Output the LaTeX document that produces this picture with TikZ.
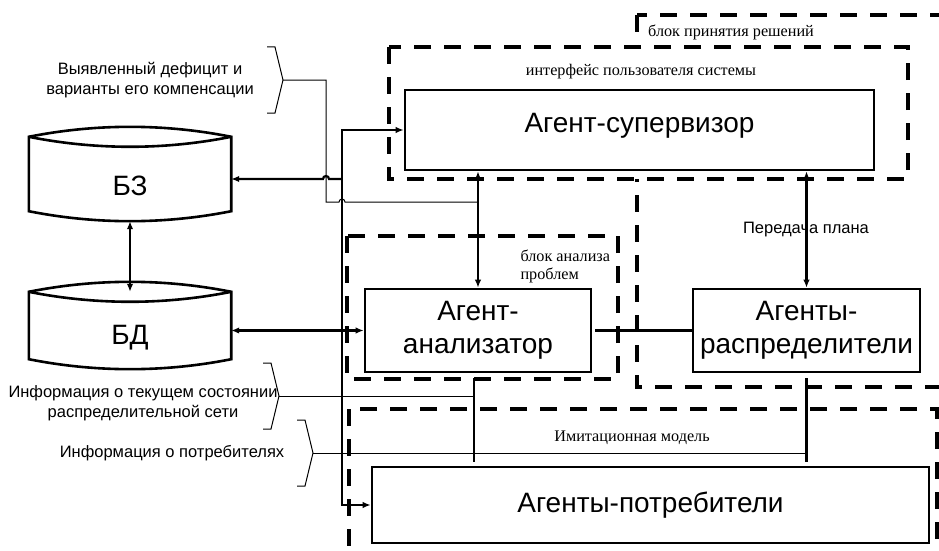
\documentclass[tikz,border=0pt]{standalone}
\usepackage{fontspec}
\setmainfont{Liberation Sans}
\newfontfamily\capfont{Liberation Serif}
\usetikzlibrary{arrows.meta}
\tikzset{
  >={Latex[length=8pt,width=6.5pt]},
  agent/.style={draw,line width=2.6pt,inner sep=0,align=center,font=\fontsize{28}{33}\selectfont},
  store/.style={minimum width=202,inner sep=0,text depth=0pt,font=\fontsize{28}{33}\selectfont},
  store line/.style={line width=2.6pt},
  frame/.style={line width=3.3pt,dash pattern=on 17pt off 13pt},
  link/.style={line width=2.2pt},
  info/.style={line width=1pt},
  note/.style={font=\fontsize{16.5}{19.5}\selectfont,align=center},
  caption/.style={font=\capfont\fontsize{16.2}{18}\selectfont}
}

\begin{document}
\begin{tikzpicture}[x=1pt,y=-1pt]
  \clip (0,0) rectangle (939,551);

  % --- frames ---
  \draw[frame] (637,15) rectangle (990,387);
  \draw[frame,fill=white] (389,47) rectangle (908,179);
  \draw[frame] (347,236) rectangle (618,379);
  \draw[frame] (349,409) rectangle (937,600);

  \node[caption] (decision-lbl) at (731,32) {блок принятия решений};
  \node[caption] (iface-lbl) at (641,72) {интерфейс пользователя системы};
  \node[caption,align=left,anchor=west] (problem-lbl) at (517,266) {блок анализа\\проблем};
  \node[caption] (sim-lbl) at (632,438) {Имитационная модель};

  % --- agents ---
  \node[agent,minimum width=469,minimum height=80,text height=20pt,text depth=16pt] (sup) at (639.5,130) {Агент-супервизор};
  \node[agent,minimum width=226,minimum height=83] (an) at (478,330.5) {Агент-\\анализатор};
  \node[agent,minimum width=227,minimum height=83] (dist) at (806.5,330.5) {Агенты-\\распределители};
  \node[agent,minimum width=557,minimum height=76] (cons) at (650.5,505) {Агенты-потребители};

  % --- knowledge base / database ---
  \node[store,minimum height=84,text height=33pt] (kb) at (130,179) {БЗ};
  \node[store,minimum height=77,text height=27pt] (db) at (130,330.5) {БД};
  \foreach \s in {kb,db} {
    \draw[store line] (\s.north west) .. controls +(67,-13.3) and +(-67,-13.3) .. (\s.north east)
      -- ([yshift=10pt]\s.south east) .. controls +(-67,13.3) and +(67,13.3) .. ([yshift=10pt]\s.south west) -- cycle;
    \draw[store line] (\s.north west) .. controls +(67,13.3) and +(-67,13.3) .. (\s.north east);
  }

  % --- inputs with braces ---
  \coordinate (br1) at (283,80);
  \coordinate (br2) at (279,396);
  \coordinate (br3) at (313,453);
  \foreach \t in {br1,br2,br3}
    \draw[info] ([shift={(-16,-33)}]\t) -- ++(8,0) -- (\t) -- ++(-8,33) -- ++(-8,0);
  \node[note] (deficit) at (150,80) {Выявленный дефицит и\\варианты его компенсации};
  \node[note] (netstate) at (143,403) {Информация о текущем состоянии\\распределительной сети};
  \node[note] (consinfo) at (172,453) {Информация о потребителях};
  \node[note] (plan) at (806,230) {Передача плана};

  % --- connections ---
  \coordinate (bus) at (342,300);
  \coordinate (turn) at (326,202);
  \draw[link,<->] (sup.west) -- (sup.west -| bus) -- (cons.west -| bus) -- (cons.west);
  \draw[link,->] (kb.east -| bus) -- ([xshift=3pt]kb.east -| turn) arc[start angle=0,end angle=-180,radius=3] -- (kb.east);
  \draw[link,<->] (kb.south) -- (db.north);
  \draw[link,<->] (db.east) -- (an.west);
  \draw[link,<->] (sup.south -| an.north) -- (an.north);
  \draw[link,<->] (sup.south -| dist.north) -- (dist.north);
  \draw[link,shorten <=3pt] (an.east) -- (dist.west);
  \draw[link,shorten <=5pt,shorten >=4pt] ([xshift=-4pt]an.south) -- ([xshift=-4pt]an.south |- cons.north);
  \draw[link,shorten <=5pt,shorten >=4pt] (dist.south) -- (dist.south |- cons.north);

  \draw[info] (br1) -| (turn) -- ([xshift=-3pt]turn -| bus) arc[start angle=180,end angle=360,radius=3] -- (turn -| an.north);
  \draw[info] (br2) -- ([xshift=-4pt]br2 -| an.south);
  \draw[info] (br3) -- (br3 -| dist.south);

\end{tikzpicture}
\end{document}
